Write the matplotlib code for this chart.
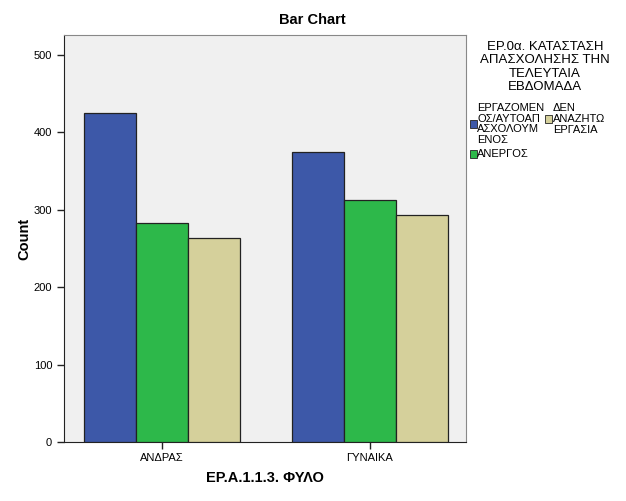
import numpy as np
import matplotlib
matplotlib.use("Agg")
import matplotlib.pyplot as plt
from matplotlib.patches import Rectangle

plt.rcParams["font.family"] = ["Liberation Sans", "DejaVu Sans"]

# data
groups = ["ΑΝΔΡΑΣ", "ΓΥΝΑΙΚΑ"]
series = ["ΕΡΓΑΖΟΜΕΝ\nΟΣ/ΑΥΤΟΑΠ\nΑΣΧΟΛΟΥΜ\nΕΝΟΣ", "ΑΝΕΡΓΟΣ", "ΔΕΝ\nΑΝΑΖΗΤΩ\nΕΡΓΑΣΙΑ"]
employed = [425, 375]
unemployed = [283, 313]
not_seeking = [264, 293]
yticks = [0, 100, 200, 300, 400, 500]
colors = ["#3d58a8", "#2db84a", "#d5d09b"]

W, H = 626, 501
fig = plt.figure(figsize=(W / 100, H / 100), dpi=100)
fig.patch.set_facecolor("white")
ax = fig.add_axes([64 / W, (H - 442) / H, 402 / W, 407 / H])
ax.set_facecolor("#f0f0f0")

x = np.arange(len(groups))
bw = 0.249
for i, vals in enumerate([employed, unemployed, not_seeking]):
    ax.bar(x + (i - 1) * bw, vals, width=bw, color=colors[i],
           edgecolor="#222222", linewidth=0.9, zorder=3)

ax.set_xlim(-0.471, 1.462)
ax.set_ylim(0, 526)
ax.set_yticks(yticks)
ax.set_xticks(x)
ax.set_xticklabels(groups)
ax.tick_params(axis="both", labelsize=8, length=5, width=1, color="#222222")
ax.tick_params(axis="x", pad=3)
for s in ["left", "bottom"]:
    ax.spines[s].set_color("#222222")
for s in ["top", "right"]:
    ax.spines[s].set_color("#888888")

ax.set_ylabel("Count", fontsize=10.5, fontweight="bold", labelpad=2)
ax.set_xlabel("ΕΡ.Α.1.1.3. ΦΥΛΟ", fontsize=10.5, fontweight="bold", labelpad=6)
fig.text(312 / W, 1 - 20 / H, "Bar Chart", fontsize=10.5, fontweight="bold",
         ha="center", va="center")

# legend
fig.text(545 / W, 1 - 67 / H, "ΕΡ.0α. ΚΑΤΑΣΤΑΣΗ\nΑΠΑΣΧΟΛΗΣΗΣ ΤΗΝ\nΤΕΛΕΥΤΑΙΑ\nΕΒΔΟΜΑΔΑ",
         fontsize=9.5, ha="center", va="center", linespacing=1.12)
legend_items = [(470, 124, 477, series[0]), (470, 154, 477, series[1]),
                (545, 119, 553, series[2])]
for (sx, sy, tx, lab), c in zip(legend_items, colors):
    fig.patches.append(Rectangle((sx / W, 1 - (sy + 4) / H), 7 / W, 8 / H,
                                 transform=fig.transFigure, facecolor=c,
                                 edgecolor="#222222", linewidth=0.6))
    fig.text(tx / W, 1 - sy / H, lab, fontsize=8, ha="left", va="center",
             linespacing=1.12)

fig.savefig("out.png", dpi=100)
